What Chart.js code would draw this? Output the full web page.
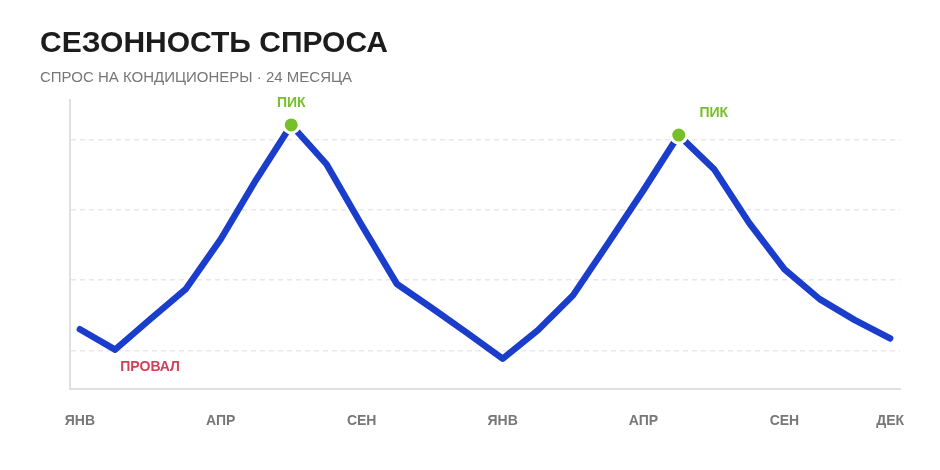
<!DOCTYPE html>
<html lang="ru"><head>
<meta charset="utf-8">
<title>Сезонность спроса</title>
<style type="text/css">
html,body { margin:0; padding:0; background:#ffffff; }
#box      { width:940px; height:470px; }
</style>
<script src="https://cdn.jsdelivr.net/npm/chart.js@4"></script>
<script>

// 24 месяца, индекс 0 = первый январь
var demand=[26,20.2,28.9,37.4,51.7,68.6,84.3,73.1,55.7,38.9,32,24.9,
            17.6,25.7,35.7,50.6,65.7,81.4,71.7,56.3,43.1,34.6,28.6,23.4];
var tickPos=[0,4,8,12,16,20,23];
var tickText=['ЯНВ','АПР','СЕН','ЯНВ','АПР','СЕН','ДЕК'];
var gridVals=[20,40,60,80];
var peakIdx=[6,17];
var noteIdx=[6,17,1];
var noteText=['ПИК','ПИК','ПРОВАЛ'];

var FONT="'Liberation Sans',Arial,Helvetica,sans-serif";
var GREEN="#77bf2a", RED="#d1405a", BLUE="#1a3ecb";

var notes={id:'notes',afterDatasetsDraw:function(chart) {
  var ctx=chart.ctx, x=chart.scales.x, y=chart.scales.y;
  // смещения подписей относительно точки
  var off=[[0,-22],[35,-22],[35,18]];
  ctx.save(); ctx.textAlign='center'; ctx.textBaseline='middle';
  ctx.font="bold 14px "+FONT;
  for (var n=0;n<noteIdx.length;n++) {
    var i=noteIdx[n];
    ctx.fillStyle=(noteText[n]=='ПРОВАЛ')?RED:GREEN;
    ctx.fillText(noteText[n],x.getPixelForValue(i)+off[n][0],y.getPixelForValue(demand[i])+off[n][1]); }
  ctx.restore(); }};

function initChart() {
  var pts=[], rad=[];
  for (var i=0;i<demand.length;i++) {
    pts.push({x:i,y:demand[i]});
    rad.push(peakIdx.indexOf(i)>=0?8:0); }

  var config={type:'line',
    data:{datasets:[{data:pts,borderColor:BLUE,borderWidth:6.5,tension:0,
      borderCapStyle:'round',borderJoinStyle:'round',
      pointRadius:rad,pointHoverRadius:rad,pointBackgroundColor:GREEN,
      pointBorderColor:'#ffffff',pointBorderWidth:3}]},
    options:{responsive:true,maintainAspectRatio:false,animation:false,
      layout:{padding:{left:40,right:40,top:26,bottom:16}},
      plugins:{legend:{display:false},tooltip:{enabled:false},
        title:{display:true,text:'СЕЗОННОСТЬ СПРОСА',align:'start',color:'#1c1c1c',
          font:{family:FONT,size:30,weight:'bold'},padding:{top:0,bottom:7}},
        subtitle:{display:true,text:'СПРОС НА КОНДИЦИОНЕРЫ · 24 МЕСЯЦА',align:'start',color:'#777777',
          font:{family:FONT,size:15,weight:'normal'},padding:{top:0,bottom:13}}},
      scales:{
        x:{type:'linear',min:-0.28,max:23.28,
          afterBuildTicks:function(s){ s.ticks=tickPos.map(function(v){return {value:v};}); },
          grid:{display:false,drawTicks:false},
          border:{display:true,color:'#e0e0e0',width:2},
          ticks:{autoSkip:false,maxRotation:0,padding:24,color:'#777777',
            font:{family:FONT,size:14,weight:'bold'},
            callback:function(v){ var k=tickPos.indexOf(v); return k>=0?tickText[k]:''; }}},
        y:{min:8.9,max:91.4,
          afterBuildTicks:function(s){ s.ticks=gridVals.map(function(v){return {value:v};}); },
          afterFit:function(s){ s.width=30; },
          grid:{color:'#e8e8e8',lineWidth:1.5,drawTicks:false},
          border:{display:true,color:'#e0e0e0',width:2,dash:[5,4]},
          ticks:{display:false}}}},
    plugins:[notes]};

  new Chart(document.getElementById('demandChart'),config); }

</script></head>
<body onload="initChart();">
<div id="box"><canvas id="demandChart"></canvas></div>
</body></html>
